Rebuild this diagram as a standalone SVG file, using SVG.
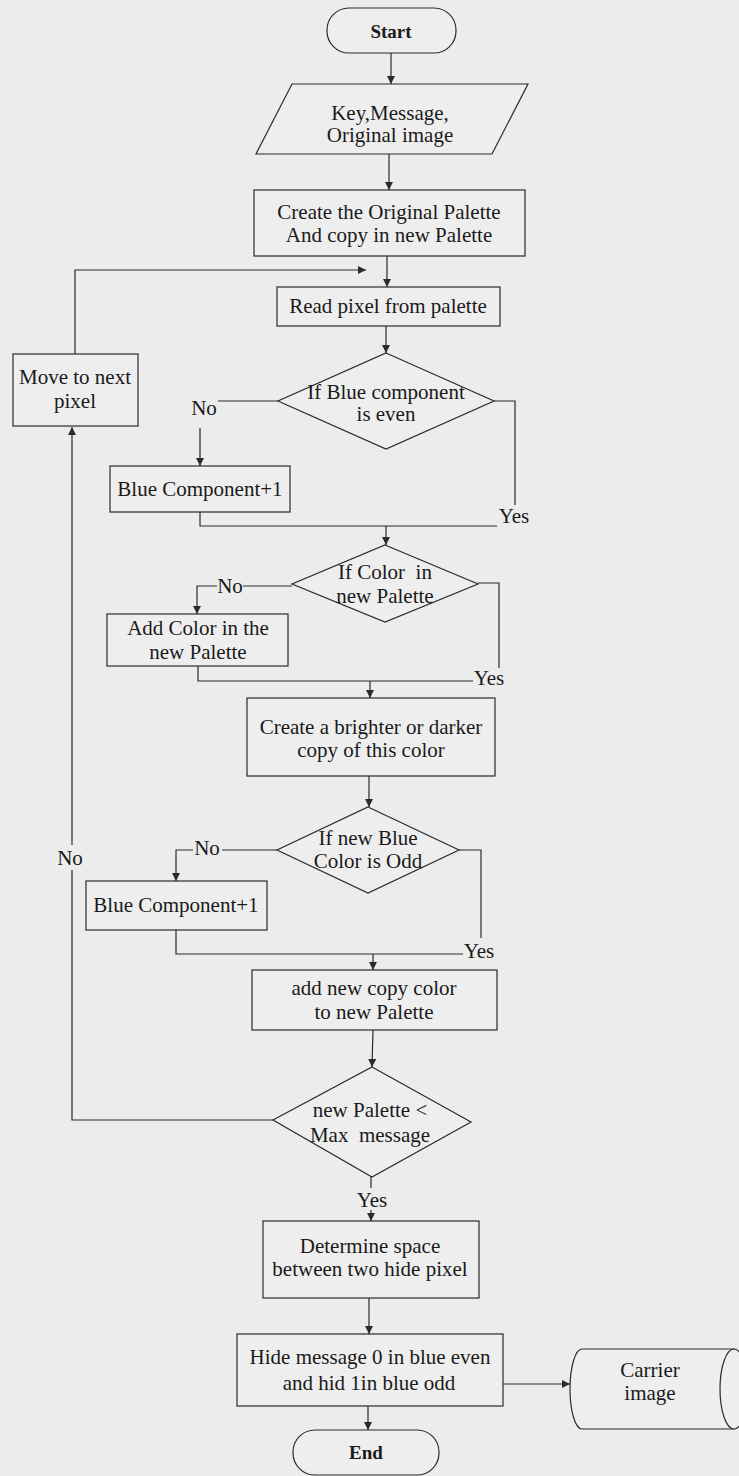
<svg xmlns="http://www.w3.org/2000/svg" width="739" height="1476" viewBox="0 0 739 1476">
<defs>
<style>
.bg{fill:#ececec}
.s{fill:none;stroke:#2b2b2b;stroke-width:1.2}
.n{fill:#eeeeee;stroke:#2b2b2b;stroke-width:1.2}
.t{font-family:"Liberation Serif","Times New Roman",serif;font-size:21px;fill:#1a1a1a;text-anchor:middle;white-space:pre}
.b{font-weight:bold;font-size:19px}
.l{font-family:"Liberation Serif","Times New Roman",serif;font-size:21px;fill:#1a1a1a;text-anchor:middle}
</style>
<marker id="arr" viewBox="0 0 10 10" refX="10" refY="5" markerWidth="9" markerHeight="8" orient="auto" markerUnits="userSpaceOnUse">
<path d="M0,0 L10,5 L0,10 z" fill="#2b2b2b"/>
</marker>
</defs>
<rect class="bg" x="0" y="0" width="739" height="1476"/>

<g id="connectors">
<line class="s" x1="391" y1="53" x2="391" y2="84" marker-end="url(#arr)"/>
<line class="s" x1="389" y1="154" x2="389" y2="190" marker-end="url(#arr)"/>
<line class="s" x1="387" y1="256" x2="387" y2="287" marker-end="url(#arr)"/>
<polyline class="s" points="75,354 75,270 366,270" marker-end="url(#arr)"/>
<line class="s" x1="386" y1="326" x2="386" y2="353" marker-end="url(#arr)"/>
<line class="s" x1="278" y1="401" x2="218" y2="401"/>
<line class="s" x1="200" y1="428" x2="200" y2="466" marker-end="url(#arr)"/>
<polyline class="s" points="494,401 515,401 515,505"/>
<polyline class="s" points="200,512 200,526 386,526"/>
<line class="s" x1="497" y1="526" x2="386" y2="526"/>
<line class="s" x1="386" y1="526" x2="386" y2="545" marker-end="url(#arr)"/>
<line class="s" x1="292" y1="586" x2="243" y2="586"/>
<polyline class="s" points="217,586 197,586 197,614" marker-end="url(#arr)"/>
<polyline class="s" points="478,583 499,583 499,668"/>
<polyline class="s" points="198,666 198,681 370,681"/>
<line class="s" x1="473" y1="681" x2="370" y2="681"/>
<line class="s" x1="370" y1="681" x2="370" y2="698" marker-end="url(#arr)"/>
<line class="s" x1="369" y1="776" x2="369" y2="807" marker-end="url(#arr)"/>
<line class="s" x1="277" y1="850" x2="222" y2="850"/>
<polyline class="s" points="193,850 176,850 176,881" marker-end="url(#arr)"/>
<polyline class="s" points="459,850 481,850 481,938"/>
<polyline class="s" points="176,930 176,954 373,954"/>
<line class="s" x1="463" y1="954" x2="373" y2="954"/>
<line class="s" x1="373" y1="954" x2="373" y2="970" marker-end="url(#arr)"/>
<line class="s" x1="373" y1="1030" x2="372" y2="1067" marker-end="url(#arr)"/>
<polyline class="s" points="273,1120 72,1120 72,870"/>
<line class="s" x1="72" y1="845" x2="72" y2="427" marker-end="url(#arr)"/>
<text class="l" x="70" y="865">No</text>
<line class="s" x1="371" y1="1177" x2="371" y2="1188"/>
<text class="l" x="372" y="1207">Yes</text>
<line class="s" x1="371" y1="1210" x2="371" y2="1221" marker-end="url(#arr)"/>
<line class="s" x1="369" y1="1298" x2="369" y2="1334" marker-end="url(#arr)"/>
<line class="s" x1="368" y1="1406" x2="368" y2="1430" marker-end="url(#arr)"/>
<line class="s" x1="503" y1="1384" x2="570" y2="1384" marker-end="url(#arr)"/>
<text class="l" x="204" y="415">No</text>
<text class="l" x="514" y="523">Yes</text>
<text class="l" x="230" y="593">No</text>
<text class="l" x="489" y="685">Yes</text>
<text class="l" x="207" y="855">No</text>
<text class="l" x="479" y="958">Yes</text>
</g>

<g id="start">
<rect class="n" x="327" y="8" width="129" height="45" rx="22" ry="22"/>
<text class="t b" x="391" y="38">Start</text>
</g>

<g id="input">
<polygon class="n" points="292,84 528,84 492,154 256,154"/>
<text class="t" x="390" y="120">Key,Message,</text>
<text class="t" x="390" y="142">Original image</text>
</g>

<g id="create-palette">
<rect class="n" x="254" y="190" width="271" height="66"/>
<text class="t" x="389" y="219">Create the Original Palette</text>
<text class="t" x="389" y="242">And copy in new Palette</text>
</g>

<g id="read-pixel">
<rect class="n" x="277" y="287" width="223" height="39"/>
<text class="t" x="388" y="313">Read pixel from palette</text>
</g>

<g id="move-next">
<rect class="n" x="13" y="354" width="125" height="72"/>
<text class="t" x="75" y="384">Move to next</text>
<text class="t" x="75" y="408">pixel</text>
</g>

<g id="blue-even">
<polygon class="n" points="386,353 494,401 386,449 278,401"/>
<text class="t" x="386" y="399">If Blue component</text>
<text class="t" x="386" y="421">is even</text>
</g>

<g id="blue-plus-1a">
<rect class="n" x="110" y="466" width="180" height="46"/>
<text class="t" x="200" y="496">Blue Component+1</text>
</g>

<g id="color-in-palette">
<polygon class="n" points="385,545 478,584 385,622 292,584"/>
<text class="t" x="385" y="579">If Color  in</text>
<text class="t" x="385" y="603">new Palette</text>
</g>

<g id="add-color">
<rect class="n" x="107" y="614" width="181" height="52"/>
<text class="t" x="198" y="635">Add Color in the</text>
<text class="t" x="198" y="659">new Palette</text>
</g>

<g id="brighter-darker">
<rect class="n" x="247" y="698" width="248" height="78"/>
<text class="t" x="371" y="734">Create a brighter or darker</text>
<text class="t" x="371" y="757">copy of this color</text>
</g>

<g id="blue-odd">
<polygon class="n" points="368,807 459,850 368,893 277,850"/>
<text class="t" x="368" y="845">If new Blue</text>
<text class="t" x="368" y="868">Color is Odd</text>
</g>

<g id="blue-plus-1b">
<rect class="n" x="86" y="881" width="181" height="49"/>
<text class="t" x="176" y="912">Blue Component+1</text>
</g>

<g id="add-copy">
<rect class="n" x="252" y="970" width="245" height="60"/>
<text class="t" x="374" y="995">add new copy color</text>
<text class="t" x="374" y="1019">to new Palette</text>
</g>

<g id="palette-max">
<polygon class="n" points="372,1067 471,1122 372,1177 273,1120"/>
<text class="t" x="370" y="1117">new Palette &lt;</text>
<text class="t" x="370" y="1142">Max  message</text>
</g>

<g id="determine-space">
<rect class="n" x="263" y="1221" width="216" height="77"/>
<text class="t" x="370" y="1253">Determine space</text>
<text class="t" x="370" y="1276">between two hide pixel</text>
</g>

<g id="hide-message">
<rect class="n" x="237" y="1334" width="266" height="72"/>
<text class="t" x="370" y="1364">Hide message 0 in blue even</text>
<text class="t" x="369" y="1390">and hid 1in blue odd</text>
</g>

<g id="end">
<rect class="n" x="293" y="1430" width="146" height="45" rx="22" ry="22"/>
<text class="t b" x="366" y="1459">End</text>
</g>

<g id="carrier-image">
<path class="n" d="M582,1349 L734,1349 L734,1429 L582,1429 A12,40 0 0 1 582,1349 Z"/>
<ellipse class="n" cx="734" cy="1389" rx="14" ry="40"/>
<text class="t" x="650" y="1377">Carrier</text>
<text class="t" x="650" y="1400">image</text>
</g>
</svg>
